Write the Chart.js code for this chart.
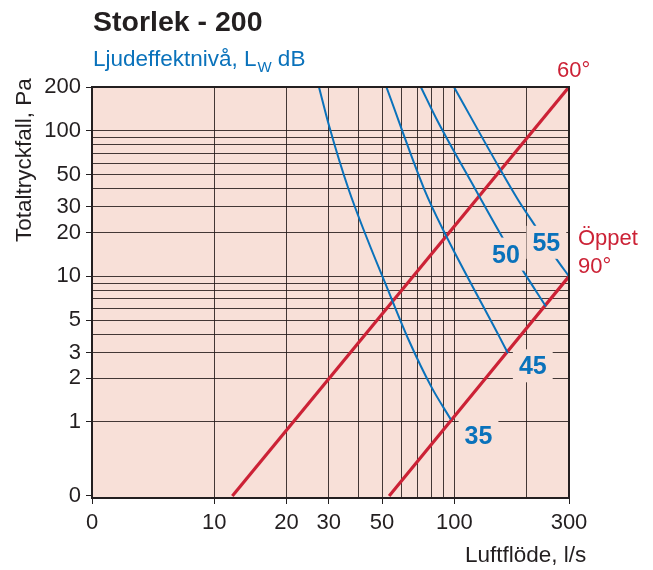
<!DOCTYPE html>
<html><head><meta charset="utf-8">
<script src="https://cdn.jsdelivr.net/npm/chart.js@4/dist/chart.umd.min.js"></script>
<style>html,body{margin:0;padding:0;background:#fff;}#wrap{width:653px;height:570px;position:relative;}canvas{display:block;}</style>
</head><body><div id="wrap"><canvas id="c" width="653" height="570" style="width:653px;height:570px;"></canvas></div>
<script>
// ---- tick values / labels ----
const xTickValues = [3.1, 10, 20, 30, 40, 50, 60, 70, 80, 90, 100, 200, 300];
const xTickLabels = ['0', '10', '20', '30', '', '50', '', '', '', '', '100', '', '300'];
const yTickValues = [0.31, 1, 2, 3, 4, 5, 6, 7, 8, 9, 10, 20, 30, 40, 50, 60, 70, 80, 90, 100, 200];
const yTickLabels = ['0', '1', '2', '3', '', '5', '', '', '', '', '10', '20', '30', '', '50', '', '', '', '', '100', '200'];

// ---- damper lines (flow l/s, pressure Pa) ----
const flow60 = [11.9, 300];
const pres60 = [0.31, 200];
const flow90 = [53.5, 300];
const pres90 = [0.31, 10];

// ---- sound power curves ----
const flow35 = [27.3, 30, 36.3, 54.6, 64.6, 80.2, 96.6];
const pres35 = [200, 110, 39.5, 7.1, 3.64, 1.74, 1.04];
const flow45 = [52.1, 75, 90.8, 154, 167];
const pres45 = [200, 39.5, 20.1, 3.84, 2.96];
const flow50 = [72.5, 85.3, 122.4, 158.5, 190.5, 240.6];
const pres50 = [200, 115.8, 39.5, 18.5, 11.3, 6.2];
const flow55 = [99.6, 154, 184, 217.8, 264, 300];
const pres55 = [200, 55.5, 33.6, 22, 13.4, 10];

// ---- curve label texts ----
const curveLabels = ['35', '45', '50', '55'];
// label anchors (data space)
const labelFlow = [126, 212, 164, 241.5];
const labelPres = [0.80, 2.41, 14.1, 17.0];

const FONT = '"Liberation Sans", Arial, Helvetica, sans-serif';
const PINK = '#f8e0d8';
const DARK = '#231f20';
const BLUE = '#0a72bb';
const RED = '#cc2236';
const GRID = 'rgba(35,25,25,0.85)';
const NONE = 'rgba(0,0,0,0)';

function pts(xs, ys) { return xs.map((x, i) => ({ x: x, y: ys[i] })); }
function curve(xs, ys, color, w) {
  return { data: pts(xs, ys), borderColor: color, borderWidth: w, pointRadius: 0, fill: false,
           cubicInterpolationMode: 'monotone', borderCapStyle: 'butt' };
}
function lookup(vals, labs, v) {
  for (let i = 0; i < vals.length; i++) if (Math.abs(vals[i] - v) < 1e-6) return labs[i];
  return '';
}

const textPlugin = {
  id: 'texts',
  beforeDraw(chart) {
    const { ctx, chartArea: a } = chart;
    ctx.save();
    ctx.fillStyle = PINK;
    ctx.fillRect(a.left, a.top, a.right - a.left, a.bottom - a.top);
    ctx.restore();
  },
  afterDatasetsDraw(chart) {
    const { ctx, chartArea: a } = chart;
    const xs = chart.scales.x, ys = chart.scales.y;
    ctx.save();
    ctx.font = 'bold 25px ' + FONT;
    ctx.textAlign = 'center';
    ctx.textBaseline = 'middle';
    curveLabels.forEach((t, i) => {
      const px = xs.getPixelForValue(labelFlow[i]);
      const py = ys.getPixelForValue(labelPres[i]);
      const w = ctx.measureText(t).width;
      ctx.fillStyle = PINK;
      ctx.fillRect(px - w / 2 - 6, py - 17, w + 12, 33);
      ctx.fillStyle = BLUE;
      ctx.fillText(t, px, py + 1);
    });
    ctx.strokeStyle = DARK;
    ctx.lineWidth = 2;
    ctx.strokeRect(a.left, a.top, a.right - a.left, a.bottom - a.top);
    ctx.font = '22px ' + FONT;
    ctx.fillStyle = RED;
    ctx.textAlign = 'left';
    ctx.textBaseline = 'alphabetic';
    const e60x = xs.getPixelForValue(flow60[1]), e60y = ys.getPixelForValue(pres60[1]);
    ctx.fillText('60°', e60x - 12, e60y - 10);
    const e90x = xs.getPixelForValue(flow90[1]), e90y = ys.getPixelForValue(pres90[1]);
    ctx.fillText('Öppet', e90x + 9, e90y - 31);
    ctx.fillText('90°', e90x + 9, e90y - 3);
    ctx.restore();
  },
  afterDraw(chart) {
    const { ctx } = chart;
    ctx.save();
    ctx.textAlign = 'left';
    ctx.textBaseline = 'alphabetic';
    ctx.fillStyle = DARK;
    ctx.font = 'bold 28.5px ' + FONT;
    ctx.fillText('Storlek - 200', 93, 31);
    ctx.fillStyle = BLUE;
    ctx.font = '22.5px ' + FONT;
    const s1 = 'Ljudeffektnivå, L';
    ctx.fillText(s1, 93, 65.5);
    let x = 93 + ctx.measureText(s1).width;
    ctx.font = '15px ' + FONT;
    ctx.fillText('W', x + 1, 72);
    x += 1 + ctx.measureText('W').width;
    ctx.font = '22.5px ' + FONT;
    ctx.fillText(' dB', x, 65.5);
    ctx.fillStyle = DARK;
    ctx.fillText('Luftflöde, l/s', 465, 562);
    ctx.translate(31, 242);
    ctx.rotate(-Math.PI / 2);
    ctx.fillText('Totaltryckfall, Pa', 0, 0);
    ctx.restore();
  }
};

new Chart(document.getElementById('c'), {
  type: 'line',
  data: {
    datasets: [
      curve(flow35, pres35, BLUE, 2),
      curve(flow45, pres45, BLUE, 2),
      curve(flow50, pres50, BLUE, 2),
      curve(flow55, pres55, BLUE, 2),
      curve(flow60, pres60, RED, 3.2),
      curve(flow90, pres90, RED, 3.2)
    ]
  },
  options: {
    responsive: false,
    animation: false,
    devicePixelRatio: 1,
    layout: { padding: { left: 0, top: 87, right: 84, bottom: 0 } },
    plugins: { legend: { display: false }, tooltip: { enabled: false }, title: { display: false } },
    scales: {
      x: {
        type: 'logarithmic', min: 3.1, max: 300,
        afterBuildTicks: s => { s.ticks = xTickValues.map(v => ({ value: v })); },
        afterFit: s => { s.height = 72; },
        ticks: { autoSkip: false, maxRotation: 0, minRotation: 0, padding: 6, color: DARK,
                 font: { family: FONT, size: 22 },
                 callback: v => lookup(xTickValues, xTickLabels, v) },
        grid: { color: c => c.index === 0 ? NONE : GRID, lineWidth: 1, tickLength: 6,
                tickColor: c => (c.tick && c.tick.label) ? DARK : NONE },
        border: { display: true, color: DARK, width: 2 }
      },
      y: {
        type: 'logarithmic', min: 0.31, max: 200,
        afterBuildTicks: s => { s.ticks = yTickValues.map(v => ({ value: v })); },
        afterFit: s => { s.width = 92; },
        ticks: { autoSkip: false, padding: 5, color: DARK,
                 font: { family: FONT, size: 22 },
                 callback: v => lookup(yTickValues, yTickLabels, v) },
        grid: { color: c => c.index === 0 ? NONE : GRID, lineWidth: 1, tickLength: 6,
                tickColor: c => (c.tick && c.tick.label) ? DARK : NONE },
        border: { display: true, color: DARK, width: 2 }
      }
    }
  },
  plugins: [textPlugin]
});
</script>
</body></html>
